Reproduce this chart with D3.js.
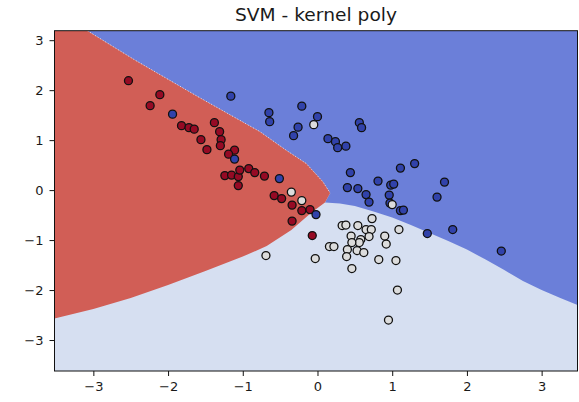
<!DOCTYPE html>
<html>
<head>
<meta charset="utf-8">
<script src="https://cdn.jsdelivr.net/npm/d3@7"></script>
<style>
  body { margin: 0; background: #fff; }
  svg { display: block; }
  text { font-family: "DejaVu Sans", sans-serif; fill: #1a1a1a; }
</style>
</head>
<body>
<svg id="chart" width="579" height="402"></svg>
<script>
// data domain (x: X.min()-1 .. X.max()+1, same for y)
const xDomain = [-3.52, 3.48]
const yDomain = [-3.62, 3.19]
const xTicks = [-3, -2, -1, 0, 1, 2, 3]
const yTicks = [-3, -2, -1, 0, 1, 2, 3]

// class 2 (red)
const redPoints = [
	[-2.53, 2.19], [-2.11, 1.91], [-2.24, 1.69], [-1.82, 1.29], [-1.72, 1.25], [-1.65, 1.22],
	[-1.38, 1.35], [-1.31, 1.17], [-1.29, 1.01], [-1.30, 0.89], [-1.56, 1.01], [-1.48, 0.81],
	[-1.11, 0.80], [-1.19, 0.72], [-1.24, 0.29], [-1.15, 0.30], [-1.06, 0.27], [-1.04, 0.40],
	[-0.92, 0.43], [-0.84, 0.35], [-0.71, 0.28], [-1.06, 0.09], [-0.58, -0.11], [-0.48, -0.17],
	[-0.34, -0.30], [-0.21, -0.41], [-0.10, -0.39], [-0.34, -0.62], [-0.07, -0.91]
]
// class 0 (blue)
const bluePoints = [
	[-1.16, 1.88], [-0.65, 1.55], [-0.64, 1.37], [-0.21, 1.68], [0.00, 1.47], [-0.26, 1.26],
	[-0.32, 1.09], [0.14, 1.03], [0.24, 0.97], [0.27, 0.85], [0.38, 0.88], [0.56, 1.35],
	[0.59, 1.25], [0.44, 0.35], [0.40, 0.05], [0.54, 0.03], [0.81, 0.18], [1.11, 0.44],
	[1.30, 0.53], [0.65, -0.09], [0.69, -0.24], [0.98, 0.10], [1.02, 0.12], [0.96, -0.10],
	[0.97, -0.26], [1.11, -0.41], [1.15, -0.40], [1.70, 0.16], [1.60, -0.14], [1.47, -0.87],
	[1.81, -0.79], [2.46, -1.22], [-1.94, 1.52], [-1.11, 0.62], [-0.51, 0.23], [-0.02, -0.49]
]
// class 1 (light)
const greyPoints = [
	[-0.69, -1.31], [-0.03, -1.37], [0.33, -0.71], [0.38, -0.70], [0.54, -0.71], [0.73, -0.57],
	[0.65, -0.79], [0.72, -0.79], [1.09, -0.79], [0.90, -0.92], [0.92, -1.08], [0.45, -0.92],
	[0.58, -0.99], [0.69, -0.93], [0.56, -1.05], [0.46, -1.05], [0.16, -1.13], [0.22, -1.13],
	[0.40, -1.19], [0.53, -1.21], [0.62, -1.25], [0.39, -1.33], [0.82, -1.39], [1.05, -1.41],
	[0.46, -1.57], [1.07, -2.00], [0.95, -2.60], [-0.35, -0.04], [-0.21, -0.21], [-0.05, 1.31],
	[1.00, -0.29]
]

// decision boundaries
const redBlueEdge = [
	[-3.08, 3.19], [-2.44, 2.60], [-1.60, 1.87], [-0.77, 1.17], [-0.42, 0.80],
	[-0.15, 0.53], [0.07, 0.17], [0.17, -0.06]
]
const redLightEdge = [
	[0.17, -0.06], [0.10, -0.25], [-0.08, -0.45], [-0.35, -0.80], [-0.68, -1.12], [-1.0, -1.33],
	[-1.5, -1.62], [-2.0, -1.90], [-2.5, -2.16], [-3.0, -2.38], [-3.52, -2.57]
]
const blueLightEdge = [
	[0.10, -0.25], [0.3, -0.27], [0.5, -0.32], [0.75, -0.43], [1.0, -0.55], [1.25, -0.70],
	[1.5, -0.86], [1.75, -1.02], [2.0, -1.19], [2.25, -1.39], [2.5, -1.60], [2.75, -1.82],
	[3.0, -2.0], [3.25, -2.16], [3.48, -2.30]
]

const svg = d3.select("#chart")
const pLeft = 54.5, pRight = 577.5, pTop = 30.7, pBottom = 371

const x = d3.scaleLinear().domain(xDomain).range([pLeft, pRight])
const y = d3.scaleLinear().domain(yDomain).range([pBottom, pTop])
const line = d3.line().x(d => x(d[0])).y(d => y(d[1]))

svg.append("clipPath").attr("id", "clip")
	.append("rect")
	.attr("x", pLeft).attr("y", pTop)
	.attr("width", pRight - pLeft).attr("height", pBottom - pTop)

const plot = svg.append("g").attr("clip-path", "url(#clip)")

// light region = background
plot.append("rect")
	.attr("x", pLeft).attr("y", pTop)
	.attr("width", pRight - pLeft).attr("height", pBottom - pTop)
	.attr("fill", "#d6dff1")

// blue region
const bluePoly = blueLightEdge.concat([[xDomain[1], yDomain[1]]], redBlueEdge)
plot.append("path")
	.attr("d", line(bluePoly) + "Z")
	.attr("fill", "#6b7fd9")

// red region
const redPoly = [[xDomain[0], yDomain[1]]].concat(redBlueEdge, redLightEdge.slice(1))
plot.append("path")
	.attr("d", line(redPoly) + "Z")
	.attr("fill", "#d15e56")

// faint dotted edge between red and blue
plot.append("path")
	.attr("d", line(redBlueEdge))
	.attr("fill", "none")
	.attr("stroke", "#fff")
	.attr("stroke-width", 0.9)
	.attr("stroke-dasharray", "1,2")
	.attr("opacity", 0.8)

// scatter
const groups = [
	{ pts: redPoints, color: "#960a24" },
	{ pts: bluePoints, color: "#3142aa" },
	{ pts: greyPoints, color: "#dcdcdc" }
]
groups.forEach(g => {
	plot.append("g").selectAll("circle")
		.data(g.pts)
		.join("circle")
		.attr("cx", d => x(d[0]))
		.attr("cy", d => y(d[1]))
		.attr("r", 4)
		.attr("fill", g.color)
		.attr("stroke", "#111")
		.attr("stroke-width", 1.3)
})

// axes
const fmt = d3.format("d")
const xAxis = svg.append("g")
	.attr("transform", `translate(0,${pBottom})`)
	.call(d3.axisBottom(x).tickValues(xTicks).tickFormat(fmt).tickSize(5).tickPadding(6).tickSizeOuter(0))
const yAxis = svg.append("g")
	.attr("transform", `translate(${pLeft},0)`)
	.call(d3.axisLeft(y).tickValues(yTicks).tickFormat(fmt).tickSize(5).tickPadding(6).tickSizeOuter(0))

;[xAxis, yAxis].forEach(a => {
	a.select(".domain").remove()
	a.selectAll("line").attr("stroke", "#111")
	a.selectAll("text")
		.style("font-family", "'DejaVu Sans', sans-serif")
		.style("font-size", "13px")
		.attr("fill", "#1a1a1a")
})

// spines
svg.append("rect")
	.attr("x", pLeft).attr("y", pTop)
	.attr("width", pRight - pLeft).attr("height", pBottom - pTop)
	.attr("fill", "none")
	.attr("stroke", "#111")
	.attr("stroke-width", 1)

// title
svg.append("text")
	.attr("x", (pLeft + pRight) / 2)
	.attr("y", 21)
	.attr("text-anchor", "middle")
	.attr("textLength", 162)
	.attr("lengthAdjust", "spacingAndGlyphs")
	.style("font-size", "17px")
	.text("SVM - kernel poly")
</script>
</body>
</html>
